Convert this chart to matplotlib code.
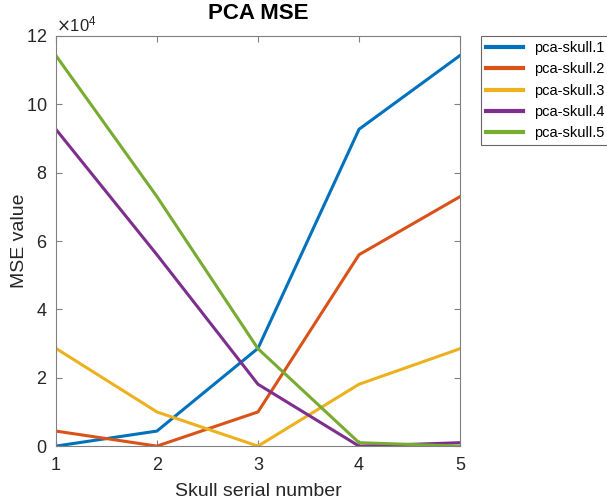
import matplotlib
matplotlib.use('Agg')
import matplotlib.pyplot as plt
from matplotlib.ticker import ScalarFormatter

plt.rcParams['font.family'] = ['Liberation Sans', 'DejaVu Sans']

# skull serial numbers
skulls = [1, 2, 3, 4, 5]

# MSE values per reconstruction
mse_1 = [0, 4400, 28600, 92700, 114300]
mse_2 = [4400, 0, 10000, 56000, 73000]
mse_3 = [28600, 10000, 0, 18100, 28500]
mse_4 = [92700, 56000, 18100, 0, 1000]
mse_5 = [114300, 73000, 28500, 1000, 0]

labels = ['pca-skull.1', 'pca-skull.2', 'pca-skull.3', 'pca-skull.4', 'pca-skull.5']
colors = ['#0072BD', '#D95319', '#EDB120', '#7E2F8E', '#77AC30']

fig = plt.figure(figsize=(6.07, 4.99), dpi=100)
ax = fig.add_axes([0.092, 0.106, 0.666, 0.822])

for vals, lab, c in zip([mse_1, mse_2, mse_3, mse_4, mse_5], labels, colors):
    ax.plot(skulls, vals, color=c, linewidth=2.2, label=lab)

ax.set_xlim(1, 5)
ax.set_ylim(0, 120000)
ax.set_xticks(skulls)
ax.set_yticks(range(0, 120001, 20000))

fmt = ScalarFormatter(useMathText=True)
fmt.set_powerlimits((4, 4))
ax.yaxis.set_major_formatter(fmt)
ax.yaxis.get_offset_text().set_fontsize(12)
ax.yaxis.get_offset_text().set_color('#404040')

ax.tick_params(direction='in', top=True, right=True, labelsize=13,
               colors='#808080', labelcolor='#262626', length=4)
ax.tick_params(axis='x', pad=8)
ax.tick_params(axis='y', pad=6)
for s in ax.spines.values():
    s.set_color('#808080')

ax.set_title('PCA MSE', fontsize=16, fontweight='bold', pad=12)
ax.set_xlabel('Skull serial number', fontsize=14, color='#262626', labelpad=6)
ax.set_ylabel('MSE value', fontsize=14, color='#262626')
ax.yaxis.set_label_coords(-0.07, 0.5)

leg = ax.legend(loc='upper left', bbox_to_anchor=(1.052, 1.0), fontsize=10.5,
                frameon=True, fancybox=False, edgecolor='#404040',
                handlelength=2.5, borderpad=0.35, labelspacing=0.5,
                handletextpad=0.8, borderaxespad=0)
leg.get_frame().set_linewidth(0.8)
for ln in leg.get_lines():
    ln.set_linewidth(3)

fig.savefig('out.png', dpi=100)
